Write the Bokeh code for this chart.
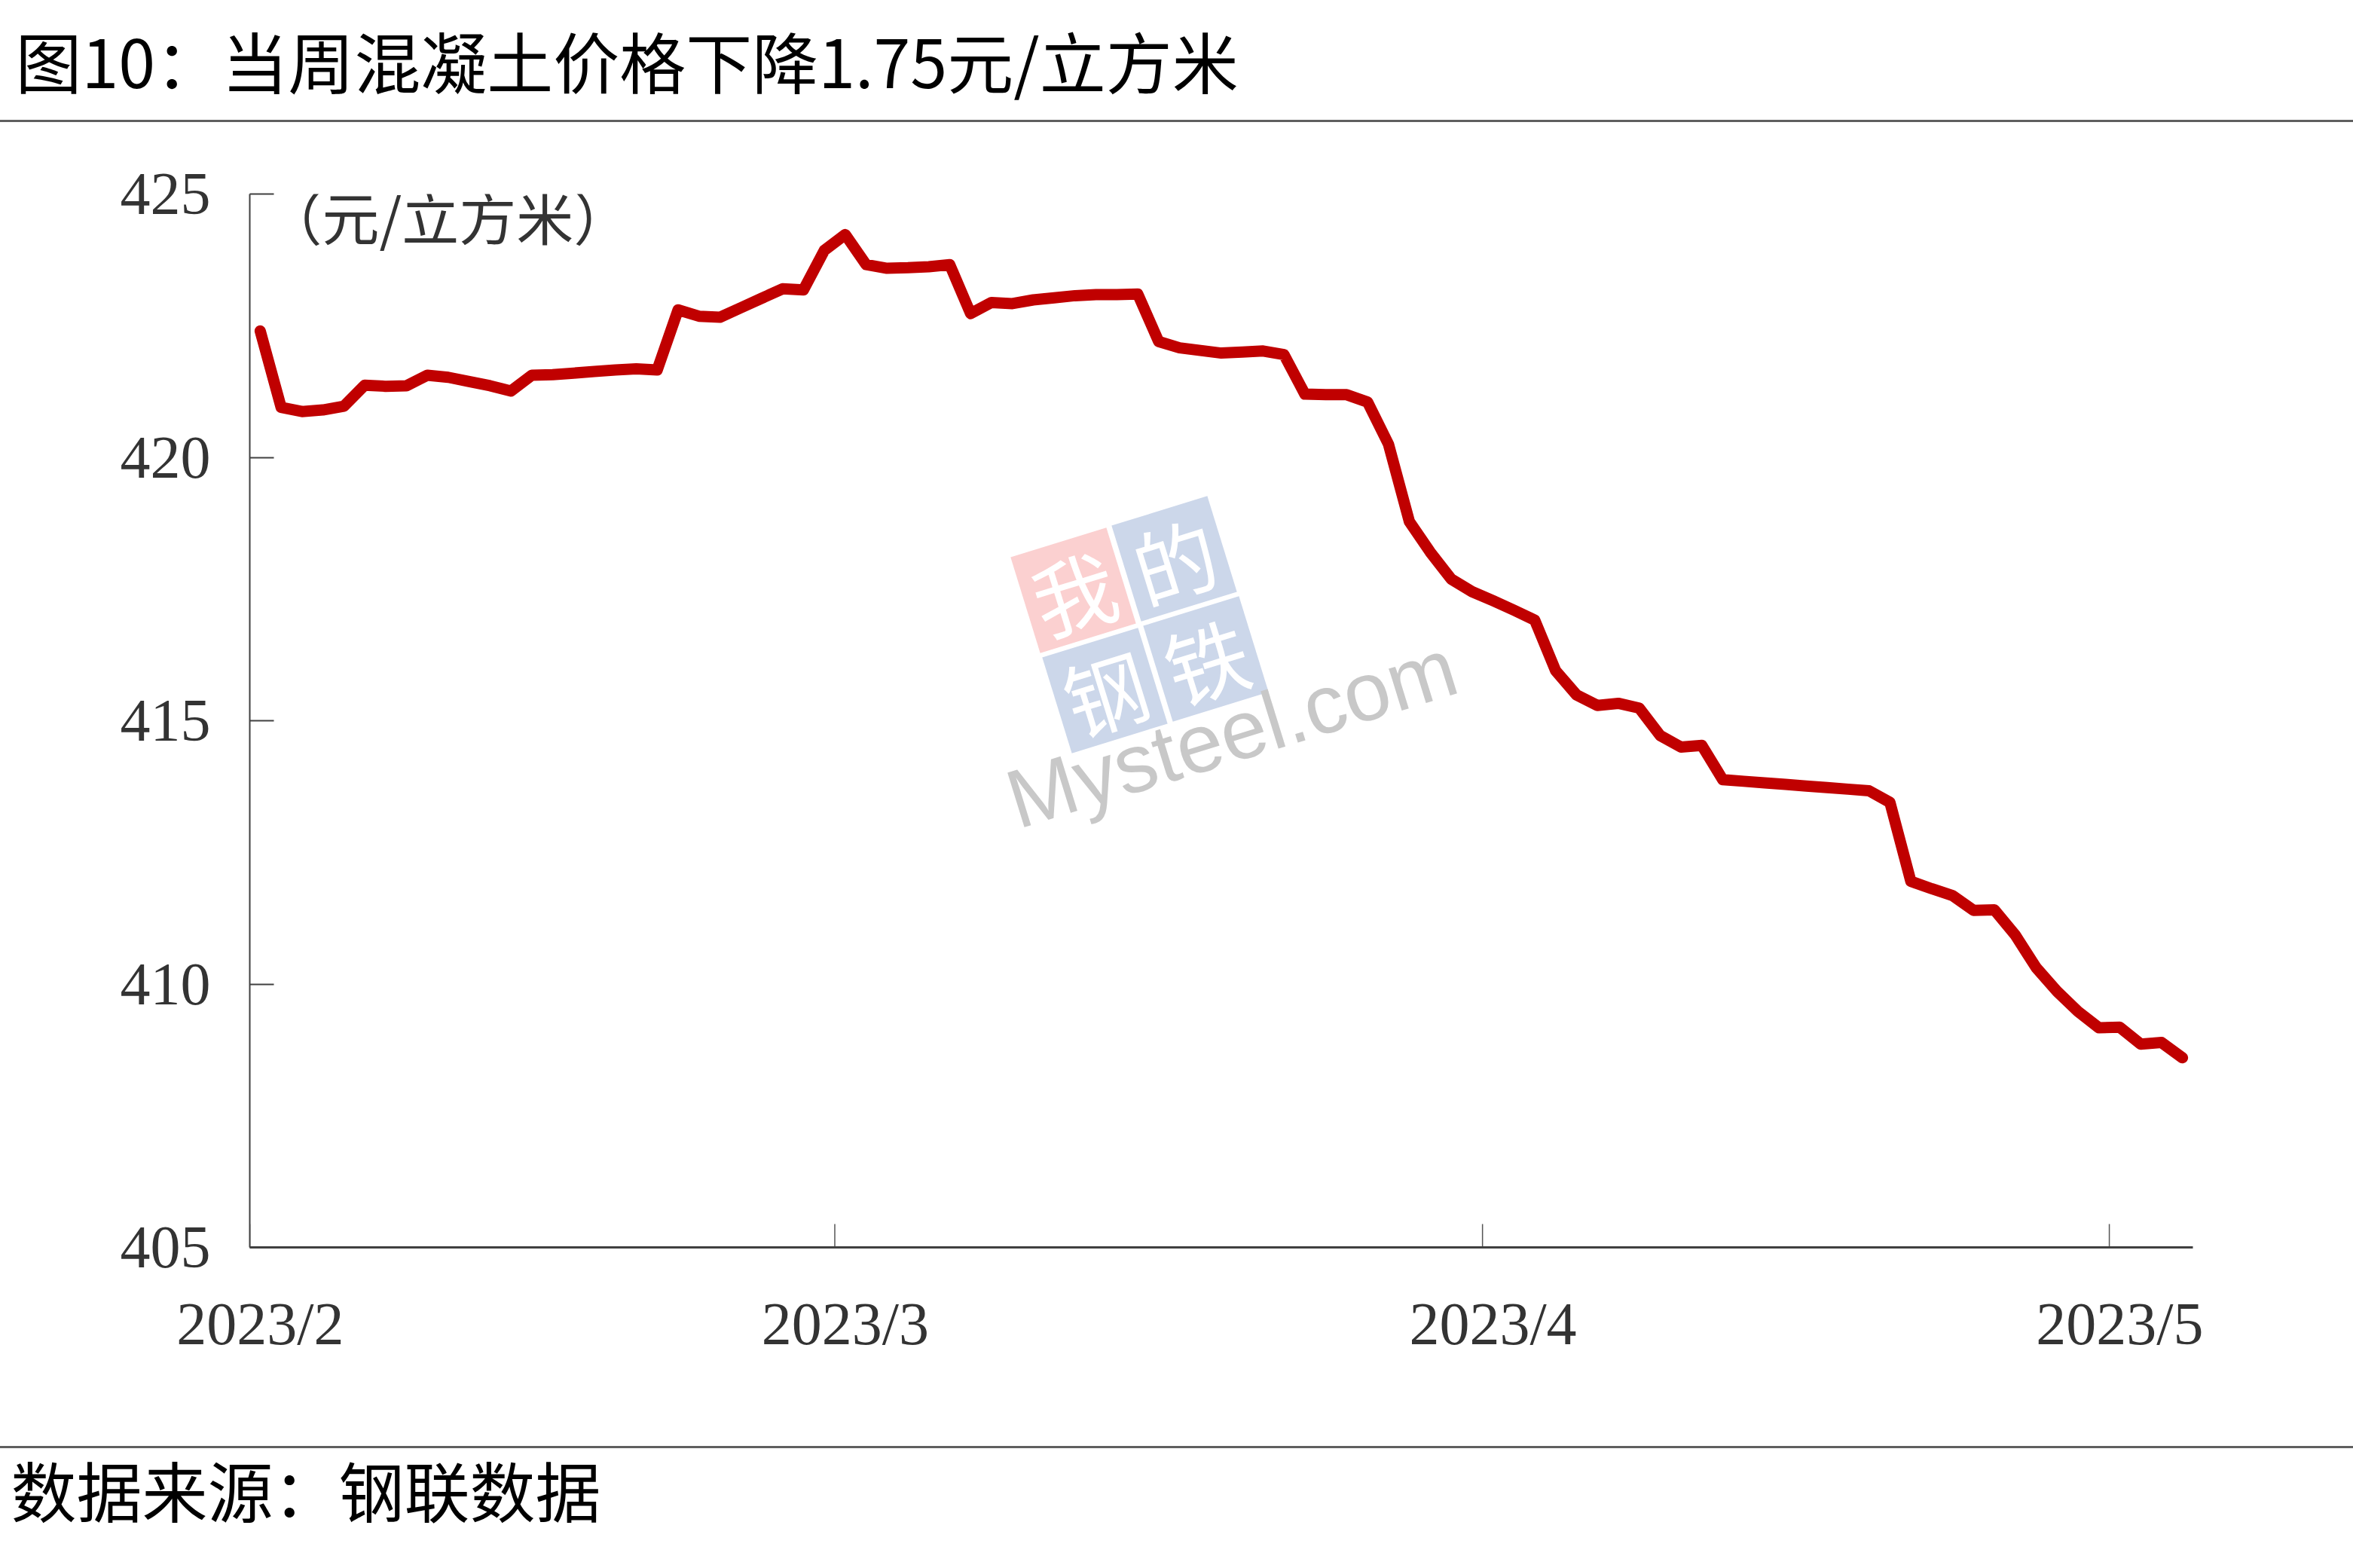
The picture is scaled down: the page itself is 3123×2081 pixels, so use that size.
import pandas as pd
from bokeh.plotting import figure
from bokeh.layouts import column
from bokeh.models import FixedTicker, Range1d, Title, Div
from bokeh.core.properties import value
from bokeh.embed import file_html
from bokeh.resources import INLINE

# ---------------- data ----------------
title_text = "图10：当周混凝土价格下降1.75元/立方米"
unit_text = "（元/立方米）"
source_text = "数据来源：钢联数据"

start_date = "2023-02-01"
values = [
    422.40, 420.95, 420.87, 420.90, 420.97, 421.37, 421.35, 421.36, 421.56, 421.52,
    421.44, 421.36, 421.26, 421.56, 421.57, 421.60, 421.63, 421.66, 421.68, 421.66,
    422.80, 422.68, 422.66, 422.84, 423.02, 423.20, 423.18, 423.93, 424.23, 423.66,
    423.59, 423.60, 423.62, 423.66, 422.73, 422.94, 422.92, 422.99, 423.03, 423.07,
    423.09, 423.09, 423.10, 422.20, 422.08, 422.03, 421.98, 422.00, 422.02, 421.95,
    421.20, 421.19, 421.19, 421.05, 420.25, 418.78, 418.20, 417.69, 417.45, 417.28,
    417.10, 416.91, 415.95, 415.49, 415.29, 415.33, 415.24, 414.72, 414.50, 414.53,
    413.88, 413.85, 413.82, 413.79, 413.76, 413.73, 413.70, 413.67, 413.45, 411.95,
    411.81, 411.68, 411.40, 411.41, 410.93, 410.31, 409.86, 409.48, 409.17, 409.18,
    408.86, 408.89, 408.60,
]
y_ticks = [405, 410, 415, 420, 425]
x_tick_dates = ["2023-02-01", "2023-03-01", "2023-04-01", "2023-05-01"]
x_tick_labels = ["2023/2", "2023/3", "2023/4", "2023/5"]
x_end_date = "2023-05-05"
y_min, y_max = 405, 425

# ---------------- geometry (page pixels) ----------------
W = 3107
RULE_W = 3123
HEAD_GAP, HEAD_H, RULE_H, MAIN_H, FOOT_H, FOOT_SHIFT = 12, 147, 3, 1757, 143, 12
MAIN_TOP = HEAD_GAP + HEAD_H + RULE_H
F_LEFT, F_RIGHT, F_TOP, F_BOTTOM = 331, 2910, 257, 1655   # plot frame on page
RED = "#C00000"
GREY_RULE = "#5f5f5f"
HALF_DAY = pd.Timedelta(hours=12)

t0 = pd.Timestamp(start_date)
t1 = pd.Timestamp(x_end_date)
px_per_day = (F_RIGHT - F_LEFT) / ((t1 - t0) / pd.Timedelta(days=1))
px_per_unit = (F_BOTTOM - F_TOP) / (y_max - y_min)


def page_to_data(px, py):
    return t0 + pd.Timedelta(days=(px - F_LEFT) / px_per_day), y_max - (py - F_TOP) / px_per_unit


def bare(fig, fill="white"):
    fig.outline_line_color = None
    fig.grid.visible = False
    fig.background_fill_color = fill
    fig.border_fill_color = fill
    return fig


def text_strip(height, text, size, offset, margin):
    f = bare(figure(width=W, height=height, output_backend="svg", toolbar_location=None, tools="",
                    x_axis_location=None, y_axis_location=None,
                    min_border_left=F_LEFT, min_border_right=W - F_RIGHT,
                    min_border_top=0, min_border_bottom=0,
                    x_range=Range1d(0, 1), y_range=Range1d(0, 1), margin=margin), fill=None)
    f.add_layout(Title(text=text, align="left", offset=offset, standoff=0,
                       text_font="Noto Sans CJK SC", text_font_size=size,
                       text_font_style="normal", text_color="black"), "above")
    return f


def rule():
    return Div(text="", width=RULE_W, height=RULE_H, margin=0,
               styles={"background-color": GREY_RULE, "margin": "0", "padding": "0"})


# ---------------- header ----------------
head = text_strip(HEAD_H, title_text, "88px", 20 - F_LEFT, (HEAD_GAP, 0, 0, 0))

# ---------------- main chart ----------------
dates = pd.date_range(start_date, periods=len(values), freq="D") + HALF_DAY

p = bare(figure(
    width=W, height=MAIN_H, x_axis_type="datetime", output_backend="svg",
    toolbar_location=None, tools="", margin=0,
    min_border_left=F_LEFT, min_border_right=W - F_RIGHT,
    min_border_top=F_TOP - MAIN_TOP, min_border_bottom=MAIN_TOP + MAIN_H - F_BOTTOM,
    x_range=Range1d(t0, t1), y_range=Range1d(y_min, y_max),
))

# watermark (behind the data line)
wm_cells = [("我", 1424, 783, "#FBD0D0"), ("的", 1558, 741, "#CCD7EA"),
            ("钢", 1466, 916, "#CCD7EA"), ("铁", 1600, 874, "#CCD7EA")]
wm_angle = 0.30
for ch, px, py, col in wm_cells:
    wx, wy = page_to_data(px, py)
    p.rect(x=[wx], y=[wy], width=133, height=133, width_units="screen", height_units="screen",
           angle=wm_angle, fill_color=col, line_color=None)
    p.text(x=[wx], y=[wy], text=[ch], angle=wm_angle, text_font=value("Noto Sans CJK SC"),
           text_font_size="110px", text_color="white", text_align="center", text_baseline="middle")
mx, my = page_to_data(1634, 972)
p.text(x=[mx], y=[my], text=["Mysteel.com"], angle=wm_angle, text_font=value("Liberation Sans"),
       text_font_size="110px", text_color="#C8C8C8", text_align="center", text_baseline="middle")

# month tick marks (inward, at month boundaries)
month_starts = [pd.Timestamp(d) for d in x_tick_dates]
tick_len = 31 / px_per_unit
p.segment(x0=month_starts, y0=[y_min] * len(month_starts), x1=month_starts,
          y1=[y_min + tick_len] * len(month_starts), line_color="#555555", line_width=1.5)

# data line
p.line(dates, values, line_color=RED, line_width=15, line_cap="round", line_join="round")

# unit label (kept inside the frame so it is not clipped)
ux, uy = page_to_data(351, 285)
p.text(x=[ux], y=[uy], text=[unit_text], text_font=value("Noto Sans CJK SC"),
       text_font_size="76px", text_color="#333333", text_baseline="middle", text_align="left")

# x axis: labels centred on the first day of each month
label_pos = [(d + HALF_DAY).value / 1e6 for d in month_starts]
xa = p.xaxis[0]
xa.ticker = FixedTicker(ticks=label_pos)
xa.major_label_overrides = {t: l for t, l in zip(label_pos, x_tick_labels)}
xa.axis_line_color = "#404040"
xa.axis_line_width = 3
xa.major_tick_in = 0
xa.major_tick_out = 0
xa.minor_tick_line_color = None
xa.major_label_text_font = "Liberation Serif"
xa.major_label_text_font_size = "80px"
xa.major_label_text_color = "#333333"
xa.major_label_standoff = 57

ya = p.yaxis[0]
ya.ticker = FixedTicker(ticks=y_ticks)
ya.axis_line_color = "#404040"
ya.axis_line_width = 2
ya.major_tick_in = 32
ya.major_tick_out = 0
ya.major_tick_line_color = "#404040"
ya.major_tick_line_width = 2
ya.minor_tick_line_color = None
ya.major_label_text_font = "Liberation Serif"
ya.major_label_text_font_size = "80px"
ya.major_label_text_color = "#333333"
ya.major_label_standoff = 52

# ---------------- footer ----------------
foot = text_strip(FOOT_H, source_text, "87px", 14 - F_LEFT, (-FOOT_SHIFT, 0, 0, 0))

layout = column(head, rule(), p, rule(), foot, spacing=0)
open("out.html", "w").write(file_html(layout, INLINE))
